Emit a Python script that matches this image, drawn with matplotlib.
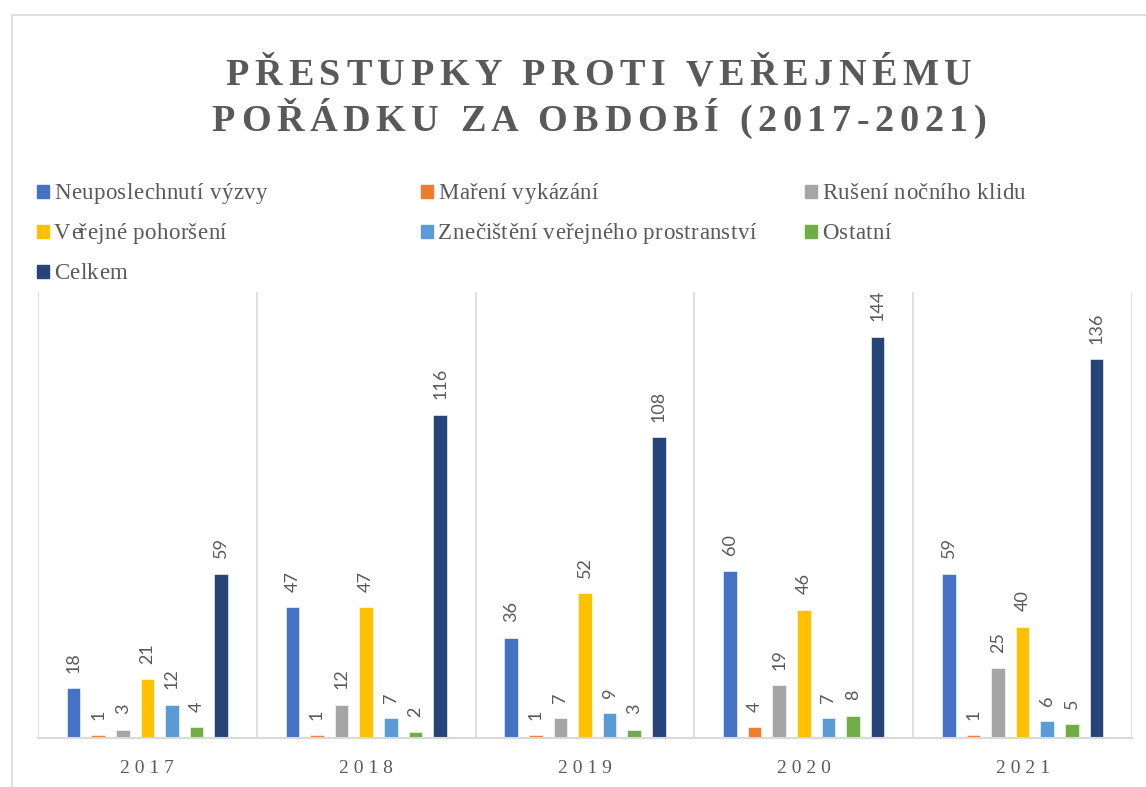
import matplotlib.pyplot as plt
import matplotlib.patches as mpatches
from matplotlib.font_manager import FontProperties
import numpy as np

years = ["2017", "2018", "2019", "2020", "2021"]
series_names = [
    "Neuposlechnutí výzvy",
    "Maření vykázání",
    "Rušení nočního klidu",
    "Veřejné pohoršení",
    "Znečištění veřejného prostranství",
    "Ostatní",
    "Celkem",
]
neuposlechnuti = [18, 47, 36, 60, 59]
mareni = [1, 1, 1, 4, 1]
ruseni = [3, 12, 7, 19, 25]
pohorseni = [21, 47, 52, 46, 40]
znecisteni = [12, 7, 9, 7, 6]
ostatni = [4, 2, 3, 8, 5]
celkem = [59, 116, 108, 144, 136]
values = [neuposlechnuti, mareni, ruseni, pohorseni, znecisteni, ostatni, celkem]
colors = ["#4472C4", "#ED7D31", "#A5A5A5", "#FFC000", "#5B9BD5", "#70AD47", "#264478"]

title_lines = ["PŘESTUPKY PROTI VEŘEJNÉMU", "POŘÁDKU ZA OBDOBÍ (2017-2021)"]
serif = ["Liberation Serif", "DejaVu Serif"]
grey = "#595959"

W, H = 1146, 787
fig = plt.figure(figsize=(W / 100, H / 100), dpi=100)
fig.patch.set_facecolor("white")
renderer = fig.canvas.get_renderer()


def spaced_text(s, x, y, fp, sp, ha="left"):
    # letter-spaced text, x/y in pixels from top-left, y = baseline
    base = renderer.get_text_width_height_descent("||", fp, ismath=False)[0]
    pen = [renderer.get_text_width_height_descent("|" + s[:k] + "|", fp, ismath=False)[0] - base
           for k in range(len(s) + 1)]
    total = pen[-1] + (len(s) - 1) * sp
    x0 = x - total / 2 if ha == "center" else x
    for k, c in enumerate(s):
        if c == " ":
            continue
        fig.text((x0 + pen[k] + k * sp) / W, 1 - y / H, c, ha="left", va="baseline",
                 fontproperties=fp, color=grey)


# chart border
fig.patches.append(mpatches.Rectangle((12 / W, -0.01), 1.2, 1 - 15 / H + 0.01,
                                      transform=fig.transFigure, fill=False,
                                      edgecolor="#d9d9d9", linewidth=1.2))

ax = fig.add_axes([38 / W, 49 / H, (1132 - 38) / W, (738 - 292) / H])
x = np.arange(len(years))
step = 0.1125
width = 0.062
for i, (vals, col) in enumerate(zip(values, colors)):
    pos = x + (i - 3) * step
    bars = ax.bar(pos, vals, width, color=col, edgecolor="white", linewidth=0.4)
    for b, v in zip(bars, vals):
        ax.annotate(str(v), (b.get_x() + b.get_width() / 2, v), xytext=(0, 11),
                    textcoords="offset points", rotation=90, ha="center", va="bottom",
                    fontsize=13, color=grey, family="Lato")

ax.set_xlim(-0.5, len(years) - 0.5)
ax.set_ylim(0, 160)
ax.set_yticks([])
ax.set_xticks(x)
ax.set_xticklabels([" ".join(y) for y in years], family=serif,
                   fontsize=14, color=grey)
ax.tick_params(axis="x", length=0, pad=16)
for b in np.arange(-0.5, len(years), 1.0):
    ax.axvline(b, color="#d9d9d9", linewidth=1.2, zorder=0)
for s in ["top", "left", "right"]:
    ax.spines[s].set_visible(False)
ax.spines["bottom"].set_color("#d9d9d9")
ax.spines["bottom"].set_linewidth(1.5)

# title
title_fp = FontProperties(family=serif, weight="bold", size=27.5)
for line, yb in zip(title_lines, [85, 131]):
    spaced_text(line, 599, yb, title_fp, 5.6, ha="center")

# legend
legend_fp = FontProperties(family=serif, size=16.5)
col_x = [37, 421, 805]
row_y = [199, 239, 279]
for i, (name, col) in enumerate(zip(series_names, colors)):
    cx = col_x[i % 3]
    cy = row_y[i // 3]
    fig.patches.append(mpatches.Rectangle((cx / W, 1 - (cy - 1) / H), 12 / W, 13 / H,
                                          transform=fig.transFigure, color=col))
    spaced_text(name, cx + 17, cy, legend_fp, 0.4)

fig.savefig("out.png", dpi=100)
